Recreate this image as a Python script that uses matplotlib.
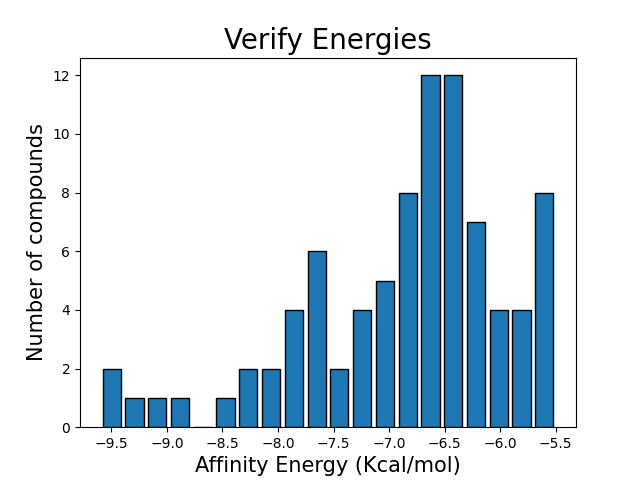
import numpy as np
import matplotlib.pyplot as plt

# histogram of affinity energies
bin_edges = np.linspace(-9.6, -5.5, 21)
counts = [2, 1, 1, 1, 0, 1, 2, 2, 4, 6, 2, 4, 5, 8, 12, 12, 7, 4, 4, 8]

centers = (bin_edges[:-1] + bin_edges[1:]) / 2

plt.figure(figsize=(6.4, 4.8))
plt.hist(centers, bins=bin_edges, weights=counts, rwidth=0.8,
         color='#1f77b4', edgecolor='black')
plt.title('Verify Energies', fontsize=20)
plt.xlabel('Affinity Energy (Kcal/mol)', fontsize=15)
plt.ylabel('Number of compounds', fontsize=15)
plt.savefig('out.png', dpi=100)
